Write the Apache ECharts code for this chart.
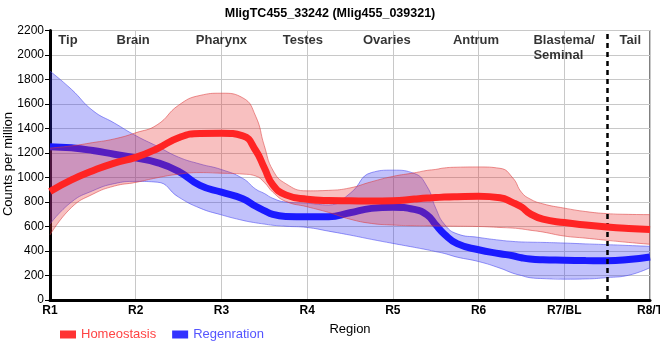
<!DOCTYPE html>
<html>
<head>
<meta charset="utf-8">
<script src="https://cdn.jsdelivr.net/npm/echarts@6/dist/echarts.min.js"></script>
<style>html,body{margin:0;padding:0;background:#fff}#c{width:660px;height:360px}</style>
</head>
<body>
<div id="c"></div>
<script>
// Region ticks (x axis categories)
var categories = ['R1','R2','R3','R4','R5','R6','R7/BL','R8/T'];
var yTicks = [0,200,400,600,800,1000,1200,1400,1600,1800,2000,2200];
// sample positions along the region axis (0 = R1 ... 7 = R8/T)
var xs = [0,0.25,0.5,0.75,1,1.25,1.5,1.75,2,2.25,2.4,2.5,2.6,2.75,3,3.25,3.5,3.75,4,4.25,4.4,4.5,4.6,4.75,5,5.25,5.4,5.5,5.6,5.75,6,6.25,6.5,6.75,7];
// Homeostasis: mean, upper, lower
var homeoMean  = [886,980,1055,1118,1164,1235,1325,1360,1362,1340,1220,1080,940,858,823,812,810,808,810,824,832,836,840,843,846,834,795,760,705,660,632,612,596,584,575];
var homeoUpper = [1240,1258,1285,1315,1365,1430,1590,1670,1688,1650,1500,1260,1060,950,891,895,915,965,1009,1038,1058,1066,1078,1084,1086,1075,996,880,825,785,750,722,705,699,697];
var homeoLower = [531,755,864,930,960,998,1027,1040,1035,1028,1012,960,880,805,761,715,660,625,612,606,605,604,603,602,600,592,587,580,570,555,522,505,487,470,455];
// Regeneration: mean, upper, lower
var regenMean  = [1252,1242,1220,1190,1160,1122,1050,935,880,826,765,730,698,682,679,680,712,748,758,740,694,614,538,460,410,378,361,345,334,328,325,322,320,330,351];
var regenUpper = [1868,1720,1546,1445,1342,1255,1166,1110,1065,992,905,870,830,800,790,776,870,1040,1060,1033,925,750,620,540,511,488,478,474,472,470,465,458,452,445,438];
var regenLower = [620,800,892,950,968,962,840,750,695,650,630,620,610,602,592,562,530,495,462,430,410,395,380,350,314,260,219,200,182,175,170,172,183,202,264];
// region names shown inside the plot
var regionNames = ['Tip','Brain','Pharynx','Testes','Ovaries','Antrum','Blastema/\nSeminal','Tail'];
var regionPos = [0.21,0.97,2.0,2.95,3.93,4.97,5.64,6.77];
var boundary = 6.5;

// data as [value, x] so that stacking applies to the value dimension
function pts(a){ return xs.map(function(x,i){ return [a[i], x]; }); }
function diff(u,l){ return xs.map(function(x,i){ return [u[i]-l[i], x]; }); }
var enc = {x:1, y:0};

var font = 'Liberation Sans, Arial, sans-serif';
var chart = echarts.init(document.getElementById('c'), null, {renderer:'canvas'});
var series = [
  {name:'rl', type:'line', stack:'regen', encode:enc, data:pts(regenLower), smooth:0.5, symbol:'none',
   lineStyle:{width:1,color:'rgba(70,70,240,0.55)'}, silent:true, z:2},
  {name:'rb', type:'line', stack:'regen', encode:enc, data:diff(regenUpper,regenLower), smooth:0.5, symbol:'none',
   lineStyle:{width:1,color:'rgba(70,70,240,0.55)'}, areaStyle:{color:'rgba(40,40,240,0.41)'}, silent:true, z:2},
  {name:'Regenration', type:'line', encode:enc, data:pts(regenMean), smooth:0.5, symbol:'none',
   lineStyle:{width:7,color:'#1a1aff'}, itemStyle:{color:'#3333ff'}, z:3},
  {name:'hl', type:'line', stack:'homeo', encode:enc, data:pts(homeoLower), smooth:0.5, symbol:'none',
   lineStyle:{width:1,color:'rgba(220,60,60,0.55)'}, silent:true, z:4},
  {name:'hb', type:'line', stack:'homeo', encode:enc, data:diff(homeoUpper,homeoLower), smooth:0.5, symbol:'none',
   lineStyle:{width:1,color:'rgba(220,60,60,0.55)'}, areaStyle:{color:'rgba(230,40,40,0.42)'}, silent:true, z:4},
  {name:'Homeostasis', type:'line', encode:enc, data:pts(homeoMean), smooth:0.5, symbol:'none',
   lineStyle:{width:7,color:'#ff2424'}, itemStyle:{color:'#ff3333'}, z:5,
   markLine:{silent:true, symbol:['none','none'], label:{show:false},
     lineStyle:{color:'#000',type:[5,4],width:2.5},
     data:[{xAxis:boundary}]}},
  {name:'labels', type:'scatter', symbolSize:0, silent:true, z:6,
   data: regionNames.map(function(n,i){
     var multi = n.indexOf('\n')>=0;
     return {value:[regionPos[i], multi?2057:2115], name:n,
       label:{align: multi?'left':'center'}};
   }),
   label:{show:true, position:'inside', formatter:function(p){return p.name;},
     color:'#000', fontWeight:'bold', fontSize:13, fontFamily:font, lineHeight:15}}
];

chart.setOption({
  animation:false,
  title:{text:'MligTC455_33242 (Mlig455_039321)', left:'center', top:2,
    textStyle:{fontSize:12.5, fontWeight:'bold', color:'#000', fontFamily:font}},
  graphic:[{type:'text', x:8, y:164, rotation:Math.PI/2,
    style:{text:'Counts per million', align:'center', verticalAlign:'middle',
      font:'13px Liberation Sans, Arial, sans-serif', fill:'#000'}}],
  grid:{left:50, right:10, top:30.5, bottom:60, show:true, borderColor:'#000', borderWidth:1,
    containLabel:false, outerBoundsMode:'none'},
  legend:{left:55, top:323, itemWidth:16, itemHeight:8, itemGap:16, icon:'rect',
    data:[{name:'Homeostasis', textStyle:{color:'#ff4444'}},{name:'Regenration', textStyle:{color:'#5555ff'}}],
    textStyle:{fontSize:13, fontFamily:font}},
  xAxis:{type:'value', min:0, max:7, interval:1,
    name:'Region', nameLocation:'middle', nameGap:23,
    nameTextStyle:{fontSize:13, color:'#000', fontFamily:font},
    axisLine:{lineStyle:{color:'#000', width:3}},
    axisTick:{show:false},
    axisLabel:{color:'#000', fontSize:12, fontWeight:'bold', fontFamily:font, margin:5,
      formatter:function(v){ return categories[Math.round(v)] || ''; }},
    splitLine:{show:true, lineStyle:{color:'#c8c8c8', width:1}}},
  yAxis:{type:'value', min:yTicks[0], max:yTicks[yTicks.length-1], interval:200,
    axisLine:{show:true, lineStyle:{color:'#000', width:3}},
    axisTick:{show:true, length:5, lineStyle:{color:'#000'}},
    axisLabel:{color:'#000', fontSize:12, fontFamily:font, margin:6,
      formatter:function(v){ return String(v); }},
    splitLine:{show:true, lineStyle:{color:'#c8c8c8', width:1}}},
  series:series
});
</script>
</body>
</html>
